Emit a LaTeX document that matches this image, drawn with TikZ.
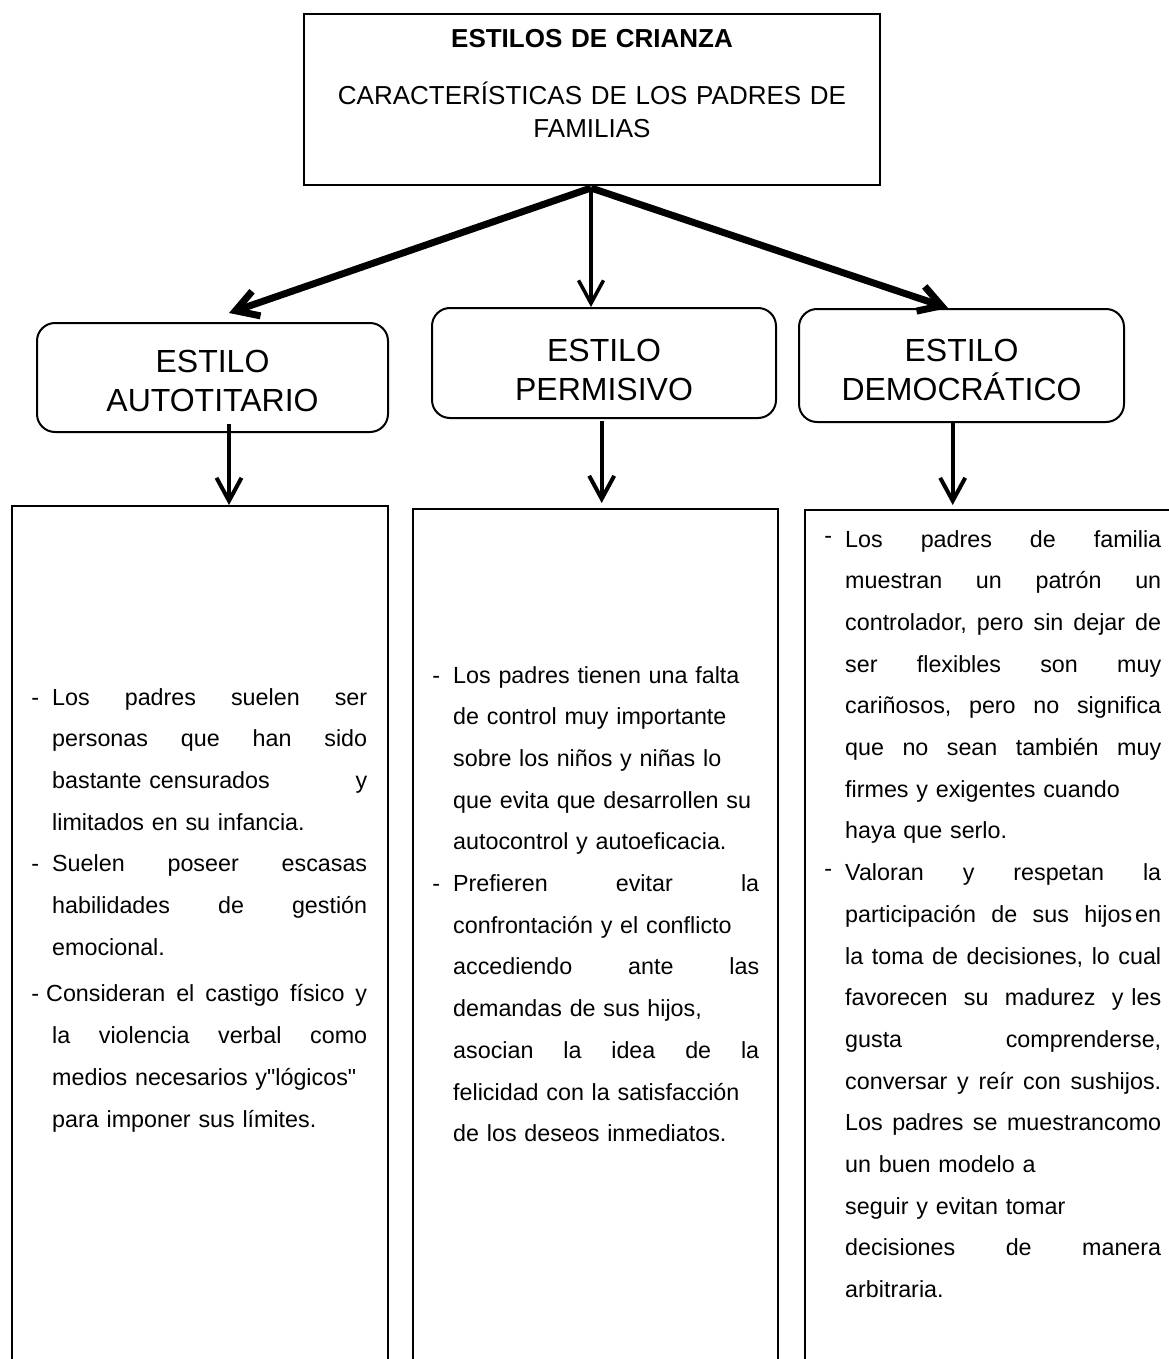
\documentclass[tikz,border=0pt]{standalone}
\usepackage{fontspec}
\setmainfont{Liberation Sans}[Ligatures=TeXOff]
\usetikzlibrary{arrows.meta}
\setlength{\parindent}{0pt}
\tikzset{
    caja/.style = {rectangle, line width=2pt, draw=black, inner sep=0pt},
    estilo/.style = {rectangle, rounded corners=18pt, line width=2pt, draw=black, inner sep=0pt, align=center, text width=300pt, font=\fontsize{32}{39}\selectfont},
    lista/.style = {anchor=north west, inner sep=0pt, align=left, font=\fontsize{23.3}{41.7}\selectfont},
    flechag/.style = {-{Straight Barb[length=22pt,width=26pt]}, line width=7pt},
    flechan/.style = {-{Straight Barb[length=23pt,width=25pt]}, line width=4pt},
}
\newcommand{\guion}{\leavevmode\llap{-\hspace{13pt}}}
\newcommand{\guionalto}{\leavevmode\llap{\raisebox{4pt}{-}\hspace{13pt}}}

\begin{document}
\begin{tikzpicture}[x=1pt, y=-1pt]
\useasboundingbox (0,0) rectangle (1169,1359);
\clip (0,0) rectangle (1169,1359);
%
\node[caja, minimum width=576pt, minimum height=171pt, text width=560pt, align=center, font=\fontsize{26}{33}\selectfont] at (592,99.5) (titulo)
  {{\bfseries\fontsize{26}{33}\selectfont ESTILOS DE CRIANZA}\\[23.3pt]
   CARACTERÍSTICAS DE LOS PADRES DE\\ FAMILIAS\rule[-32pt]{0pt}{32pt}};
%
\node[estilo, minimum width=351pt, minimum height=109pt] at (212.5,377.5) (aut) {\rule{0pt}{30pt}ESTILO\\AUTOTITARIO};
\node[estilo, minimum width=344pt, minimum height=110pt] at (604,363) (per) {\rule{0pt}{37pt}ESTILO\\PERMISIVO};
\node[estilo, minimum width=325pt, minimum height=113pt] at (961.5,365.5) (dem) {\rule{0pt}{32pt}ESTILO\\DEMOCRÁTICO};
%
\node[caja, minimum width=376pt, minimum height=900pt, anchor=north west] at (11,505) (cajaa) {};
\node[caja, minimum width=365pt, minimum height=900pt, anchor=north west] at (412,508) (cajab) {};
\node[caja, minimum width=400pt, minimum height=900pt, anchor=north west] at (804,509) (cajac) {};
%
\node[lista, text width=315pt] at (52,688) (textoa) {%
\guion Los\hfill padres\hfill suelen\hfill ser\\
personas\hfill que\hfill han\hfill sido\\
bastante censurados\hfill y\\
limitados en su infancia.\\
\guion Suelen\hfill poseer\hfill escasas\\
habilidades\hfill de\hfill gestión\\
emocional.\\[5pt]
\leavevmode\hspace*{-6pt}\llap{-\hspace{7pt}}Consideran\hfill el\hfill castigo\hfill físico\hfill y\\
la\hfill violencia\hfill verbal\hfill como\\
medios necesarios y"lógicos"\\
para imponer sus límites.};
%
\node[lista, text width=306pt] at (453,666) (textob) {%
\guion Los padres tienen una falta\\
de control muy importante\\
sobre los niños y niñas lo\\
que evita que desarrollen su\\
autocontrol y autoeficacia.\\
\guion Prefieren\hfill evitar\hfill la\\
confrontación y el conflicto\\
accediendo\hfill ante\hfill las\\
demandas de sus hijos,\\
asocian\hfill la\hfill idea\hfill de\hfill la\\
felicidad con la satisfacción\\
de los deseos inmediatos.};
%
\node[lista, text width=316pt] at (845,530) (textoc) {%
\guionalto Los\hfill padres\hfill de\hfill familia\\
muestran\hfill un\hfill patrón\hfill un\\
controlador,\hfill pero\hfill sin\hfill dejar\hfill de\\
ser\hfill flexibles\hfill son\hfill muy\\
cariñosos,\hfill pero\hfill no\hfill significa\\
que\hfill no\hfill sean\hfill también\hfill muy\\
firmes y exigentes cuando\\
haya que serlo.\\
\guionalto Valoran\hfill y\hfill respetan\hfill la\\
participación\hfill de\hfill sus\hfill hijos\hspace{3pt}en\\
la\hfill toma\hfill de\hfill decisiones,\hfill lo\hfill cual\\
favorecen\hfill su\hfill madurez\hfill y les\\
gusta\hfill comprenderse,\\
conversar\hfill y\hfill reír\hfill con\hfill sushijos.\\
Los\hfill padres\hfill se\hfill muestrancomo\\
un buen modelo a\\
seguir y evitan tomar\\
decisiones\hfill de\hfill manera\\
arbitraria.};
%
\coordinate (fork) at (591,188);
\coordinate (puntaa) at (229,313);
\coordinate (puntac) at (948,308);
\draw[flechag] (fork) -- (puntaa);
\draw[flechan, line width=3.5pt] (fork) -- (fork |- per.north);
\draw[flechag] (fork) -- (puntac);
%
\coordinate (ejea) at (229,0);
\coordinate (ejeb) at (601.7,0);
\coordinate (ejec) at (952.7,0);
\draw[flechan, shorten <=-9pt] (aut.south -| ejea) -- (cajaa.north -| ejea);
\draw[flechan, shorten <=2pt, shorten >=5pt] (per.south -| ejeb) -- (cajab.north -| ejeb);
\draw[flechan, shorten >=4pt] (dem.south -| ejec) -- (cajac.north -| ejec);

\end{tikzpicture}
\end{document}
